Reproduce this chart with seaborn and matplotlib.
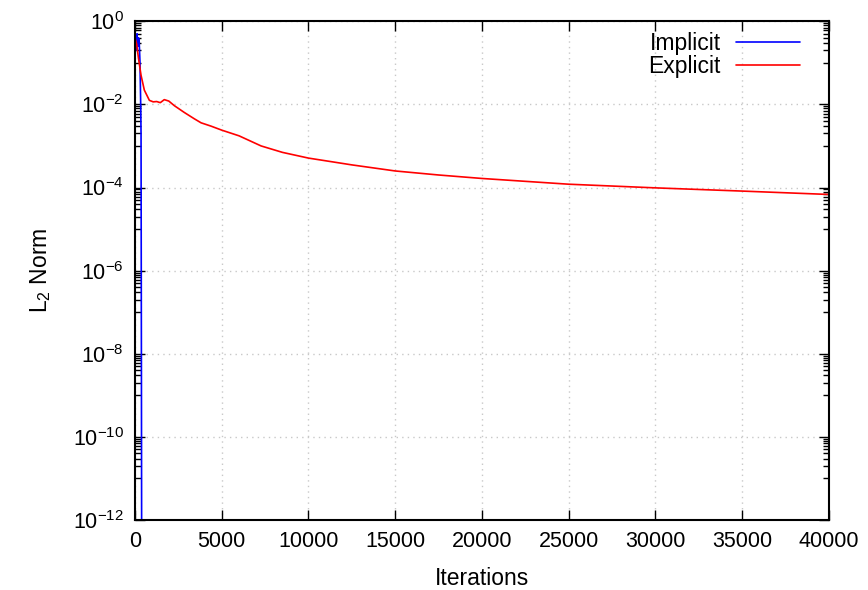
import matplotlib
matplotlib.use("Agg")
import matplotlib.pyplot as plt
import matplotlib.ticker as mticker
import pandas as pd
import seaborn as sns
import numpy as np

# data
implicit_iter = [0, 40, 80, 120, 160, 200, 240, 290, 330, 350, 370, 390]
implicit_l2 = [0.3, 0.45, 0.2, 0.5, 0.25, 0.4, 0.35, 0.1, 0.01, 2e-3, 1e-8, 1e-14]

explicit_iter = [0, 100, 200, 350, 540, 830, 1050, 1250, 1460, 1690, 1950, 2270,
                 2840, 3420, 3810, 4380, 5000, 6000, 7270, 8500, 10000, 12500,
                 15000, 17500, 20000, 25000, 30000, 35000, 40000]
explicit_l2 = [0.4, 0.28, 0.13, 0.05, 0.022, 0.0125, 0.0115, 0.0117, 0.011, 0.013,
               0.012, 9.3e-3, 6.4e-3, 4.5e-3, 3.6e-3, 3.0e-3, 2.4e-3, 1.75e-3,
               1.0e-3, 7.0e-4, 5.1e-4, 3.5e-4, 2.5e-4, 2.0e-4, 1.65e-4, 1.2e-4,
               9.8e-5, 8.2e-5, 6.8e-5]

x_ticks = [0, 5000, 10000, 15000, 20000, 25000, 30000, 35000, 40000]

df = pd.concat([
    pd.DataFrame({"Iterations": implicit_iter, "L2": implicit_l2, "method": "Implicit"}),
    pd.DataFrame({"Iterations": explicit_iter, "L2": explicit_l2, "method": "Explicit"}),
])

sns.set_style("ticks")
plt.rcParams["font.family"] = ["Liberation Sans", "DejaVu Sans"]
plt.rcParams["mathtext.fontset"] = "custom"
plt.rcParams["mathtext.rm"] = "Liberation Sans"
plt.rcParams["mathtext.default"] = "regular"
plt.rcParams["axes.unicode_minus"] = False
for key in ["text.color", "axes.labelcolor", "xtick.color", "ytick.color"]:
    plt.rcParams[key] = "black"

fig = plt.figure(figsize=(8.68, 5.90), dpi=100)
ax = fig.add_axes([0.1555, 0.1186, 0.7995, 0.8454])

sns.lineplot(data=df, x="Iterations", y="L2", hue="method", estimator=None,
             sort=False, palette={"Implicit": "#0000ff", "Explicit": "#ff0000"},
             linewidth=1.2, ax=ax)

ax.set_yscale("log")
ax.set_xlim(0, 40000)
ax.set_ylim(1e-12, 1e0)
ax.set_xticks(x_ticks)
ax.xaxis.set_major_formatter(mticker.FuncFormatter(lambda v, p: f"{int(v)}"))
ax.yaxis.set_major_locator(mticker.FixedLocator([10.0 ** e for e in range(-12, 1, 2)]))
ax.yaxis.set_major_formatter(mticker.FuncFormatter(lambda v, p: r"$10^{%d}$" % round(np.log10(v))))
minors = [m * 10.0 ** e for e in range(-13, 0, 2) for m in range(1, 10)]
ax.yaxis.set_minor_locator(mticker.FixedLocator(minors))
ax.yaxis.set_minor_formatter(mticker.NullFormatter())

ax.grid(True, which="major", color="#c8c8c8", linestyle=(0, (1, 3)), linewidth=1.0)
ax.set_axisbelow(True)
for s in ax.spines.values():
    s.set_visible(True)
    s.set_linewidth(1.5)
    s.set_color("black")

ax.tick_params(which="both", direction="in", top=True, right=True, labelsize=15.5, pad=8)
ax.tick_params(which="major", length=7, width=1.0)
ax.tick_params(which="minor", length=4, width=1.0)

ax.set_xlabel("Iterations", fontsize=16.5, labelpad=11)
ax.set_ylabel("L$_2$ Norm", fontsize=16.5, labelpad=14)

ax.legend(title=None, loc="upper right", bbox_to_anchor=(0.958, 0.978),
          frameon=False, markerfirst=False, fontsize=16.5, handlelength=2.8,
          handletextpad=0.65, borderaxespad=0, borderpad=0, labelspacing=0.0)

fig.savefig("out.png", dpi=100)
